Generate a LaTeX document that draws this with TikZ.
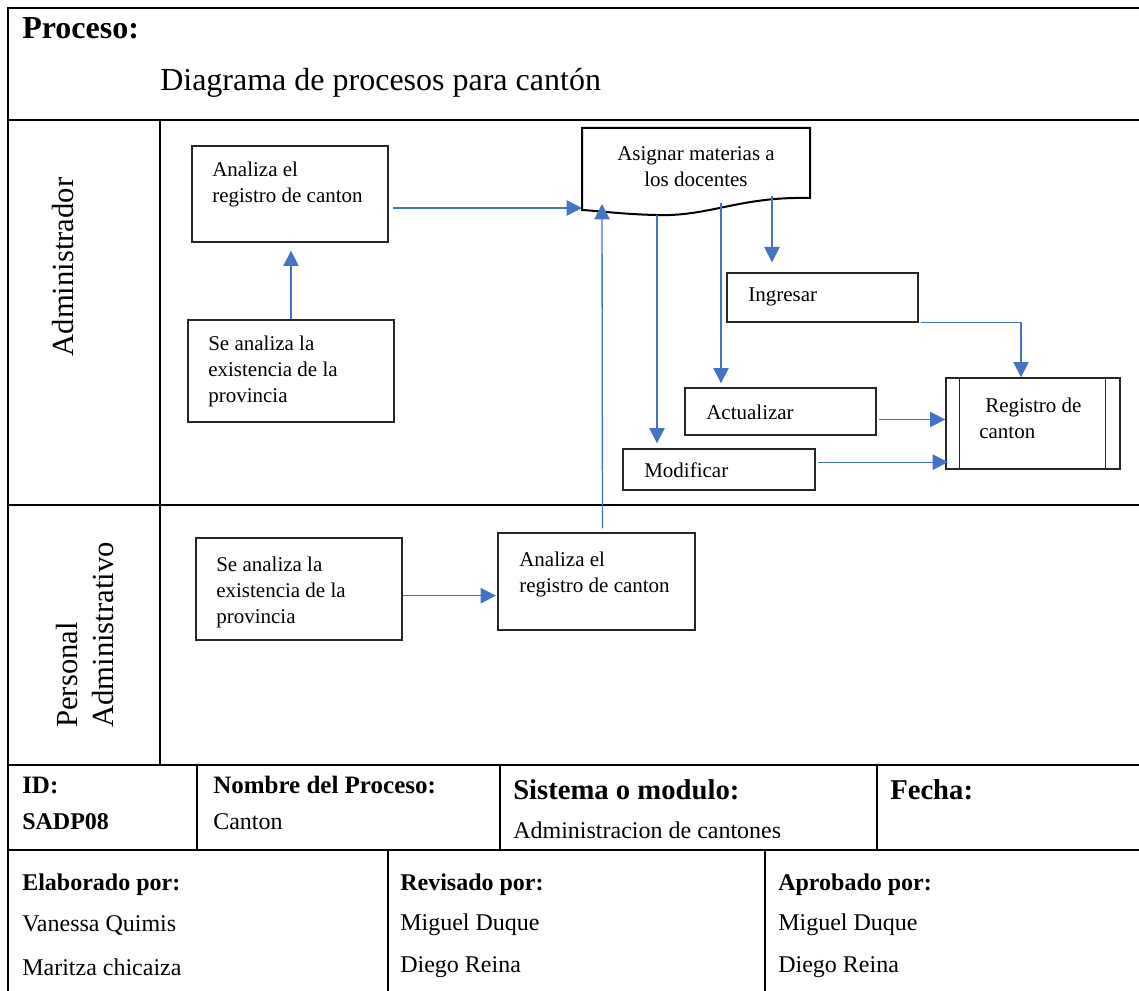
\documentclass[tikz,border=0pt]{standalone}
\usepackage{fontspec}
\setmainfont{Liberation Serif}
\usetikzlibrary{arrows.meta,calc,fit}
\definecolor{arrblue}{HTML}{4472C4}
\begin{document}
\begin{tikzpicture}[x=0.75pt,y=-0.75pt,
  tbl/.style={line width=1.5pt,black},
  box/.style={draw=black!85,line width=1pt,inner sep=0pt},
  arr/.style={draw=arrblue,line width=1pt,-{Triangle[length=11.5pt,width=11.5pt]}},
  txt/.style={font=\fontsize{15.75}{19.5}\selectfont,align=left,inner sep=0pt,anchor=west},
  lane/.style={font=\fontsize{23}{27}\selectfont,rotate=90,inner sep=0pt},
  ftr/.style={font=\fontsize{18}{21}\selectfont,anchor=west,inner sep=0pt},
  ftb/.style={font=\fontsize{18}{21}\selectfont\bfseries,anchor=west,inner sep=0pt},
  ftbig/.style={font=\fontsize{21.5}{25}\selectfont\bfseries,anchor=west,inner sep=0pt}
]
\useasboundingbox (0,0) rectangle (1139,991);

% table frame
\draw[tbl] (8,991) -- (8,8) -- (1139,8);
\draw[tbl] (8,120) -- (1139,120);
\draw[tbl] (160,120) -- (160,765);
\draw[tbl] (8,505) -- (1139,505);
\draw[tbl] (8,765) -- (1139,765);
\draw[tbl] (8,850) -- (1139,850);
\draw[tbl] (197,765) -- (197,850);
\draw[tbl] (500,765) -- (500,850);
\draw[tbl] (877,765) -- (877,850);
\draw[tbl] (388,850) -- (388,991);
\draw[tbl] (765,850) -- (765,991);

% header
\node[font=\fontsize{24}{28}\selectfont\bfseries,anchor=west,inner sep=0pt] (proc) at (22,28) {Proceso:};
\node[font=\fontsize{24}{28}\selectfont,anchor=west,inner sep=0pt] (title) at (160,83) {Diagrama de procesos para cantón};

% lane labels
\node[lane] (lane1) at (63,267) {Administrador};
\node[lane,anchor=west,align=left] (lane2) at (85,728) {Personal\\Administrativo};

% boxes
\node[box,fit={(192,146) (388,242)}] (a1) {};
\node[txt] at (212,184) {Analiza el\\registro de canton};
\node[box,fit={(188,320) (394,422)}] (a2) {};
\node[txt] at (208,371) {Se analiza la\\existencia de la\\provincia};

\draw[line width=1.5pt] (582,128) -- (810,128) -- (810,198) -- (795,198)
  .. controls (735,199) and (705,217) .. (655,215)
  .. controls (620,214) and (600,211) .. (582,210) -- cycle;
\node[txt,align=center,anchor=center] (doc) at (696,167) {Asignar materias a\\los docentes};
\coordinate (docL) at (582,208);
\coordinate (docB0) at (602,204);
\coordinate (docB1) at (657,215);
\coordinate (docB2) at (721,203);
\coordinate (docB3) at (772,196);

\node[box,fit={(727,273) (918,322)}] (ing) {};
\node[txt] at (748,297) {Ingresar};
\node[box,fit={(685,388) (876,435)}] (act) {};
\node[txt] at (706,412) {Actualizar};
\node[box,fit={(623,449) (815,490)}] (mod) {};
\node[txt] at (644,470) {Modificar};

\node[box,fit={(946,378) (1120,469)}] (reg) {};
\draw[box] ([xshift=10.5pt]reg.north west) -- ([xshift=10.5pt]reg.south west);
\draw[box] ([xshift=-11.25pt]reg.north east) -- ([xshift=-11.25pt]reg.south east);
\node[txt] at (979,418) {\hspace*{4.5pt}Registro de\\canton};

\node[box,fit={(196,538) (402,640)}] (p1) {};
\node[txt] at (216,592) {Se analiza la\\existencia de la\\provincia};
\node[box,fit={(498,533) (695,630)}] (p2) {};
\node[txt] at (519,574) {Analiza el\\registro de canton};

% connectors
\draw[arr,shorten >=6pt] (a2.north) -- (a2.north |- a1.south);
\draw[arr] ([xshift=3pt,yshift=-10.5pt]a1.east) -- (docL);
\draw[arr] ([xshift=4.5pt,yshift=3pt]p2.north) -- (docB0);
\draw[arr,shorten >=3.75pt] (docB1) -- (docB1 |- mod.north);
\draw[arr,shorten >=3pt] (docB2) -- (docB2 |- act.north);
\draw[arr,shorten >=7.5pt] (docB3) -- (docB3 |- ing.north);
\draw[arr] ([xshift=1.5pt]ing.south east) -| ([xshift=-9pt]reg.north);
\draw[arr] ([xshift=1.5pt,yshift=-6pt]act.east) -- ([yshift=-6pt]act.east -| reg.west);
\draw[arr,shorten >=-2pt] ([xshift=1.5pt,yshift=5.5pt]mod.east) -- ([yshift=5.5pt]mod.east -| reg.west);
\draw[arr,shorten >=1pt] ([yshift=-5pt]p1.east) -- ([yshift=-5pt]p1.east -| p2.west);

% footer
\node[ftb,font=\fontsize{18.75}{21}\selectfont\bfseries] (idl) at (22,785) {ID:};
\node[ftb] (idv) at (22,822) {SADP08};
\node[ftb,font=\fontsize{18.75}{21}\selectfont\bfseries] (nomb) at (213,785) {Nombre del Proceso:};
\node[ftr] (nombv) at (213,822) {Canton};
\node[ftbig] (sis) at (513,790) {Sistema o modulo:};
\node[ftr] (sisv) at (513,830) {Administracion de cantones};
\node[ftbig] (fec) at (890,790) {Fecha:};
\node[ftb] (elab) at (22,885) {Elaborado por:};
\node[ftr] (elab1) at (22,925) {Vanessa Quimis};
\node[ftr] (elab2) at (22,967) {Maritza chicaiza};
\node[ftb] (rev) at (400,885) {Revisado por:};
\node[ftr] (rev1) at (400,925) {Miguel Duque};
\node[ftr] (rev2) at (400,967) {Diego Reina};
\node[ftb] (apr) at (778,885) {Aprobado por:};
\node[ftr] (apr1) at (778,925) {Miguel Duque};
\node[ftr] (apr2) at (778,967) {Diego Reina};
\end{tikzpicture}
\end{document}
